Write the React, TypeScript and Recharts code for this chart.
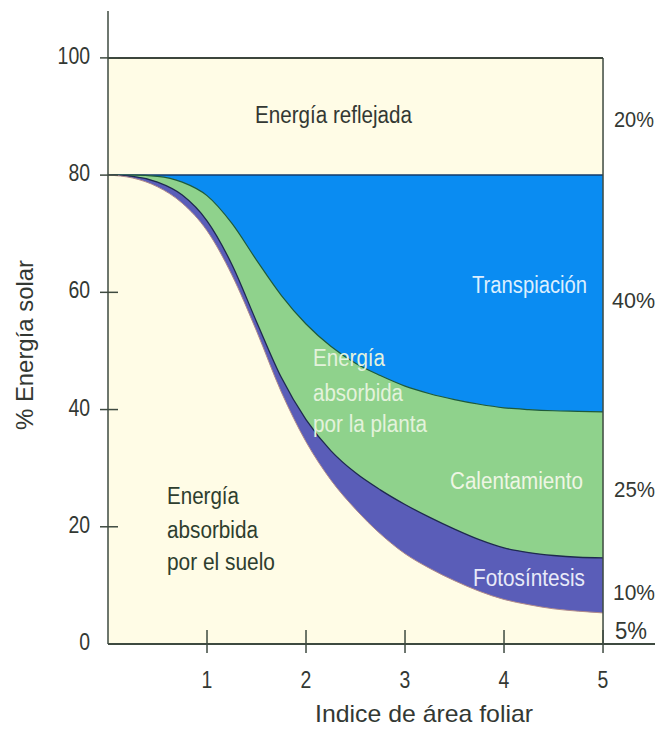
import React from "react";
import { AreaChart, Area, XAxis, YAxis, ReferenceLine } from "recharts";

// Leaf area index (x) and upper boundary of each energy band (% of solar energy)
const LAI = [0, 0.25, 0.5, 0.75, 1, 1.25, 1.5, 1.75, 2, 2.25, 2.5, 2.75, 3, 3.25, 3.5, 3.75, 4, 4.25, 4.5, 4.75, 5];
const REFLECTED_TOP = [100, 100, 100, 100, 100, 100, 100, 100, 100, 100, 100, 100, 100, 100, 100, 100, 100, 100, 100, 100, 100];
const TRANSPIRATION_TOP = [80, 80, 80, 80, 80, 80, 80, 80, 80, 80, 80, 80, 80, 80, 80, 80, 80, 80, 80, 80, 80];
const HEATING_TOP = [80, 80, 79.8, 78.8, 76.5, 71.8, 65.5, 59.5, 54.6, 50.8, 47.9, 45.8, 44.0, 42.7, 41.7, 40.9, 40.3, 40.0, 39.8, 39.7, 39.6];
const PHOTOSYNTHESIS_TOP = [80, 79.8, 78.8, 76.6, 72.2, 64.8, 55.0, 45.5, 38.3, 33.0, 29.2, 26.3, 23.8, 21.6, 19.6, 17.8, 16.4, 15.6, 15.1, 14.8, 14.7];
const SOIL_TOP = [80, 79.5, 78.0, 75.2, 70.5, 63.0, 53.4, 43.0, 34.5, 28.0, 23.0, 18.8, 15.4, 12.9, 10.8, 9.0, 7.6, 6.7, 6.0, 5.6, 5.3];

const X_TICKS = [1, 2, 3, 4, 5];
const Y_TICKS = [0, 20, 40, 60, 80, 100];

const data = LAI.map((x, i) => ({
  x,
  refl: REFLECTED_TOP[i],
  trans: TRANSPIRATION_TOP[i],
  heat: HEATING_TOP[i],
  photo: PHOTOSYNTHESIS_TOP[i],
  soil: SOIL_TOP[i],
}));

const FONT = "'Liberation Sans', Arial, sans-serif";
const AXIS = "#3e4a40";
const TXT = "#333833";
const CREAM = "#fffce6";
const BLUE = "#0a8cf2";
const GREEN = "#8fd28c";
const PURPLE = "#5a5db8";

const YTick = (props: any) => {
  const { x, y, payload } = props;
  const s = String(payload.value);
  return (
    <g>
      {payload.value !== 0 && <line x1={x - 8} x2={x + 10} y1={y} y2={y} stroke={AXIS} strokeWidth={1.5} />}
      <text x={x - 18} y={y + 6} textAnchor="end" fontFamily={FONT} fontSize={23} fill={TXT}
        textLength={s.length * 10.8} lengthAdjust="spacingAndGlyphs">{s}</text>
    </g>
  );
};

const XTick = (props: any) => {
  const { x, y, payload } = props;
  const s = String(payload.value);
  return (
    <g>
      <line x1={x} x2={x} y1={y - 14} y2={y + 9} stroke={AXIS} strokeWidth={1.5} />
      <text x={x} y={y + 44} textAnchor="middle" fontFamily={FONT} fontSize={23} fill={TXT}
        textLength={s.length * 10.8} lengthAdjust="spacingAndGlyphs">{s}</text>
    </g>
  );
};

const T = ({ x, y, w, children, fill = TXT, size = 23, anchor = "start" }: any) => (
  <text x={x} y={y} fontFamily={FONT} fontSize={size} fill={fill} textAnchor={anchor}
    textLength={w} lengthAdjust="spacingAndGlyphs">{children}</text>
);

export default function App() {
  const W = 661, H = 736;
  return (
    <div style={{ position: "absolute", left: 0, top: 0, width: W, height: H, background: "#fff" }}>
      <AreaChart width={W} height={H} data={data} margin={{ top: 11, right: 6, bottom: 62, left: 0 }}>
        <XAxis dataKey="x" type="number" domain={[0, 5.525]} ticks={X_TICKS} allowDataOverflow height={30}
          axisLine={{ stroke: AXIS, strokeWidth: 2 }} tickLine={false} tickSize={0} tickMargin={0} tick={<XTick />} />
        <YAxis type="number" domain={[0, 108]} ticks={Y_TICKS} width={108} allowDataOverflow
          axisLine={{ stroke: AXIS, strokeWidth: 1.5 }} tickLine={false} tickSize={0} tickMargin={0} tick={<YTick />} />
        <Area type="linear" dataKey="refl" stroke="#2f3a30" strokeWidth={1.5} fill={CREAM} fillOpacity={1} isAnimationActive={false} dot={false} activeDot={false} />
        <Area type="linear" dataKey="trans" stroke="#123a6a" strokeWidth={1.5} fill={BLUE} fillOpacity={1} isAnimationActive={false} dot={false} activeDot={false} />
        <Area type="monotone" dataKey="heat" stroke="#1f5a3a" strokeWidth={1.2} fill={GREEN} fillOpacity={1} isAnimationActive={false} dot={false} activeDot={false} />
        <Area type="monotone" dataKey="photo" stroke="#1e2a4e" strokeWidth={1.3} fill={PURPLE} fillOpacity={1} isAnimationActive={false} dot={false} activeDot={false} />
        <Area type="monotone" dataKey="soil" stroke="#b08a8a" strokeWidth={1} fill={CREAM} fillOpacity={1} isAnimationActive={false} dot={false} activeDot={false} />
        <ReferenceLine segment={[{ x: 5, y: 0 }, { x: 5, y: 100 }]} stroke={AXIS} strokeWidth={1.5} ifOverflow="visible" />
        <ReferenceLine segment={[{ x: 0, y: 100 }, { x: 5, y: 100 }]} stroke="#2f3a30" strokeWidth={1.5} ifOverflow="visible" />
      </AreaChart>
      <svg width={W} height={H} style={{ position: "absolute", left: 0, top: 0, pointerEvents: "none" }}>
        <T x={255} y={123} w={157}>Energía reflejada</T>
        <T x={614} y={127} w={40} size={22}>20%</T>
        <T x={612} y={308} w={43} size={22}>40%</T>
        <T x={614} y={497} w={41} size={22}>25%</T>
        <T x={613} y={600} w={42} size={22}>10%</T>
        <T x={615} y={639} w={32} size={23}>5%</T>
        <T x={472} y={293} w={115} fill="#dcefff">Transpiación</T>
        <T x={313} y={366} w={72} fill="#e4f2dc">Energía</T>
        <T x={313} y={401} w={90} fill="#e4f2dc">absorbida</T>
        <T x={313} y={432} w={114} fill="#e4f2dc">por la planta</T>
        <T x={450} y={489} w={133} fill="#eef6e4">Calentamiento</T>
        <T x={473} y={586} w={112} fill="#e8eaf8">Fotosíntesis</T>
        <T x={167} y={504} w={72} fill="#2e3e2e">Energía</T>
        <T x={167} y={538} w={91} fill="#2e3e2e">absorbida</T>
        <T x={167} y={570} w={108} fill="#2e3e2e">por el suelo</T>
        <T x={315} y={722} w={218} size={24}>Indice de área foliar</T>
        <g transform="translate(33,345) rotate(-90)">
          <T x={0} y={0} w={170} size={24} anchor="middle">% Energía solar</T>
        </g>
      </svg>
    </div>
  );
}
